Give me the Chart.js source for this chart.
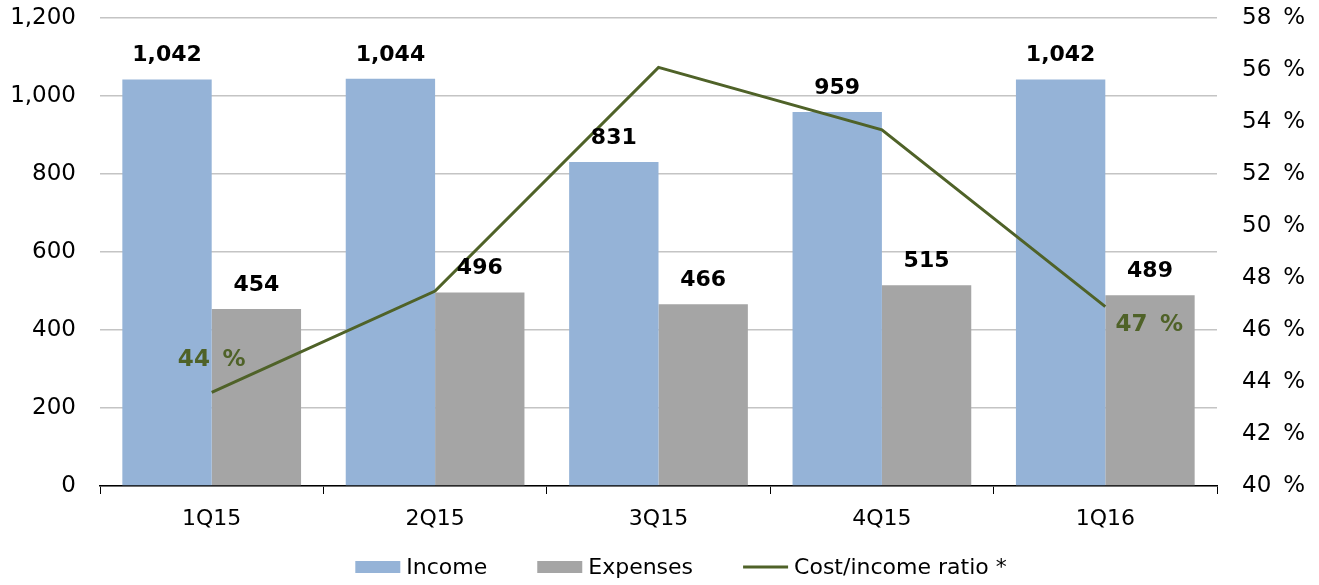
<!DOCTYPE html>
<html>
<head>
<meta charset="utf-8">
<script src="https://cdn.jsdelivr.net/npm/chart.js@4/dist/chart.umd.min.js"></script>
<style>
    html, body { margin: 0; padding: 0; background: #fff; }
    #wrap { width: 1319px; height: 585px; }
</style>
</head>
<body>
<div id="wrap"><canvas id="chart"></canvas></div>
<script>
const QUARTERS = ['1Q15', '2Q15', '3Q15', '4Q15', '1Q16']
const INCOME = [1042, 1044, 831, 959, 1042]
const EXPENSES = [454, 496, 466, 515, 489]
const COST_INCOME_RATIO = [43.6, 47.5, 56.1, 53.7, 46.9]
const LEFT_TICKS = [0, 200, 400, 600, 800, 1000, 1200]
const RIGHT_TICKS = [40, 42, 44, 46, 48, 50, 52, 54, 56, 58]

const FONT = 'DejaVu Sans, Verdana, sans-serif'
const GREEN = '#4F6228'

const fmt = v => v.toLocaleString('en-US')

// value labels above the bars, and the two labelled points of the ratio line
const valueLabels = {
    id: 'valueLabels',
    afterDatasetsDraw(chart, args, opts) {
        const ctx = chart.ctx
        ctx.save()
        ctx.textAlign = 'center'
        ctx.textBaseline = 'middle'
        chart.data.datasets.forEach((ds, i) => {
            const meta = chart.getDatasetMeta(i)
            if (ds.type === 'line') {
                ctx.font = 'bold 23px ' + FONT
                ctx.fillStyle = GREEN
                opts.lineLabels.forEach(l => {
                    const pt = meta.data[l.index]
                    ctx.fillText(Math.round(ds.data[l.index]) + '\u2009 %', pt.x + l.dx, pt.y + l.dy)
                })
            } else {
                ctx.font = 'bold 22px ' + FONT
                ctx.fillStyle = '#000'
                meta.data.forEach((bar, j) => {
                    ctx.fillText(fmt(ds.data[j]), bar.x, bar.y - 24)
                })
            }
        })
        ctx.restore()
    }
}

// legend drawn under the axis, items in dataset order
const bottomLegend = {
    id: 'bottomLegend',
    afterDraw(chart, args, opts) {
        const ctx = chart.ctx
        ctx.save()
        ctx.font = '22px ' + FONT
        ctx.textBaseline = 'middle'
        const items = chart.data.datasets.map(ds => ({
            ds: ds,
            w: opts.boxWidth + opts.textGap + ctx.measureText(ds.label).width
        }))
        const total = items.reduce((s, it) => s + it.w, 0) + opts.itemGap * (items.length - 1)
        let x = opts.centerX - total / 2
        const y = opts.y
        items.forEach(it => {
            if (it.ds.type === 'line') {
                ctx.strokeStyle = it.ds.borderColor
                ctx.lineWidth = 3
                ctx.beginPath()
                ctx.moveTo(x, y)
                ctx.lineTo(x + opts.boxWidth, y)
                ctx.stroke()
            } else {
                ctx.fillStyle = it.ds.backgroundColor
                ctx.fillRect(x, y - 6, opts.boxWidth, 12)
            }
            ctx.fillStyle = '#000'
            ctx.fillText(it.ds.label, x + opts.boxWidth + opts.textGap, y + 1)
            x += it.w + opts.itemGap
        })
        ctx.restore()
    }
}

// fixed axis sizes so the plot area lands where the original has it
const fixVertical = width => s => {
    s.width = width
    s.paddingTop = 0
    s.paddingBottom = 0
}

new Chart(document.getElementById('chart'), {
    data: {
        labels: QUARTERS,
        datasets: [
            {
                type: 'bar',
                label: 'Income',
                data: INCOME,
                backgroundColor: '#95B3D7',
                borderWidth: 0,
                yAxisID: 'y',
                order: 1,
                categoryPercentage: 0.8,
                barPercentage: 1.0
            },
            {
                type: 'bar',
                label: 'Expenses',
                data: EXPENSES,
                backgroundColor: '#A5A5A5',
                borderWidth: 0,
                yAxisID: 'y',
                order: 1,
                categoryPercentage: 0.8,
                barPercentage: 1.0
            },
            {
                type: 'line',
                label: 'Cost/income ratio *',
                data: COST_INCOME_RATIO,
                borderColor: GREEN,
                backgroundColor: GREEN,
                borderWidth: 3,
                pointRadius: 0,
                tension: 0,
                yAxisID: 'y1',
                order: 0
            }
        ]
    },
    options: {
        responsive: true,
        maintainAspectRatio: false,
        animation: false,
        layout: { padding: { top: 18, left: 0, right: 0, bottom: 0 } },
        plugins: {
            legend: { display: false },
            tooltip: { enabled: false },
            valueLabels: {
                lineLabels: [
                    { index: 0, dx: 0, dy: -32 },
                    { index: 4, dx: 44, dy: 18 }
                ]
            },
            bottomLegend: { centerX: 681, y: 567, boxWidth: 45, textGap: 6, itemGap: 50 }
        },
        scales: {
            x: {
                offset: true,
                grid: {
                    offset: true,
                    drawOnChartArea: false,
                    color: '#000',
                    tickLength: 8,
                    lineWidth: 1
                },
                border: { display: true, color: '#000', width: 1.5 },
                ticks: { color: '#000', font: { family: FONT, size: 22 }, padding: 12 },
                afterFit: s => { s.height = 99 }
            },
            y: {
                position: 'left',
                min: 0,
                max: 1200,
                afterBuildTicks: s => { s.ticks = LEFT_TICKS.map(v => ({ value: v })) },
                grid: { color: '#C4C4C4', lineWidth: 1.5, drawTicks: false },
                border: { display: false },
                ticks: {
                    color: '#000',
                    font: { family: FONT, size: 23 },
                    padding: 24,
                    callback: v => fmt(v)
                },
                afterFit: fixVertical(100)
            },
            y1: {
                position: 'right',
                min: 40,
                max: 58,
                afterBuildTicks: s => { s.ticks = RIGHT_TICKS.map(v => ({ value: v })) },
                grid: { drawOnChartArea: false, drawTicks: false },
                border: { display: false },
                ticks: {
                    color: '#000',
                    font: { family: FONT, size: 23 },
                    padding: 25,
                    callback: v => v + '\u2009 %'
                },
                afterFit: fixVertical(102)
            }
        }
    },
    plugins: [valueLabels, bottomLegend]
})
</script>
</body>
</html>
